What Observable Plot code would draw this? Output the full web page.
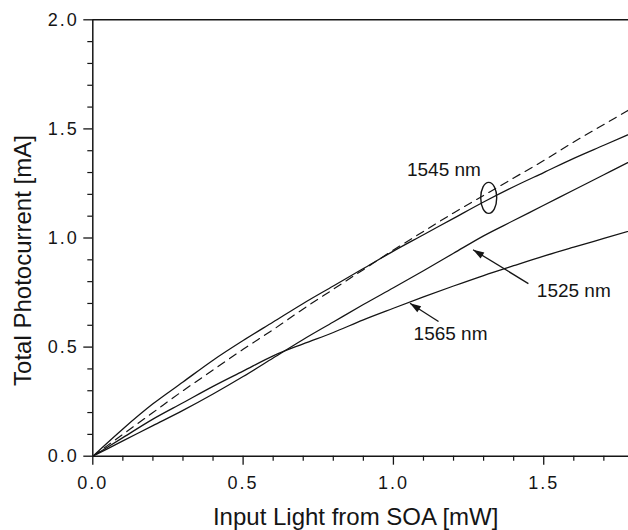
<!DOCTYPE html>
<html><head><meta charset="utf-8">
<script src="https://cdn.jsdelivr.net/npm/d3@7"></script>
<script src="https://cdn.jsdelivr.net/npm/@observablehq/plot@0.6"></script>
<style>
html,body{margin:0;padding:0;background:#fff;overflow:hidden}
svg{display:block}
g[aria-label="x-axis tick label"] text, g[aria-label="y-axis tick label"] text{letter-spacing:2px}
</style>
</head><body><div id="chart"></div>
<script>
const inputPower   = [0, 0.1, 0.2, 0.3, 0.4, 0.5, 0.6, 0.7, 0.8, 0.9, 1.0, 1.1, 1.2, 1.3, 1.4, 1.5, 1.6, 1.7, 1.8];
const current1545  = [0, 0.125, 0.24, 0.34, 0.44, 0.53, 0.615, 0.70, 0.78, 0.86, 0.94, 1.015, 1.09, 1.165, 1.235, 1.30, 1.365, 1.425, 1.485];
const current1545b = [0, 0.10, 0.20, 0.30, 0.395, 0.49, 0.58, 0.675, 0.765, 0.855, 0.945, 1.03, 1.115, 1.195, 1.275, 1.355, 1.44, 1.52, 1.60];
const current1525  = [0, 0.07, 0.14, 0.21, 0.285, 0.365, 0.45, 0.535, 0.615, 0.695, 0.772, 0.85, 0.93, 1.01, 1.08, 1.15, 1.22, 1.29, 1.36];
const current1565  = [0, 0.085, 0.17, 0.245, 0.32, 0.39, 0.46, 0.515, 0.567, 0.625, 0.678, 0.73, 0.78, 0.828, 0.873, 0.917, 0.958, 0.998, 1.038];

const xTicks = [0, 0.5, 1.0, 1.5];
const xMinorTicks = [0.1, 0.2, 0.3, 0.4, 0.6, 0.7, 0.8, 0.9, 1.1, 1.2, 1.3, 1.4, 1.6, 1.7];
const yTicks = [0, 0.5, 1.0, 1.5, 2.0];
const yMinorTicks = [0.1, 0.2, 0.3, 0.4, 0.6, 0.7, 0.8, 0.9, 1.1, 1.2, 1.3, 1.4, 1.6, 1.7, 1.8, 1.9];

const labelText = ["1545 nm", "1525 nm", "1565 nm"];
const labelX = [1.168, 1.600, 1.190];
const labelY = [1.314, 0.759, 0.562];

const arrowFromX = [1.449, 1.150];
const arrowFromY = [0.791, 0.617];
const arrowToX = [1.265, 1.055];
const arrowToY = [0.946, 0.701];

const ellipseX = [1.317];
const ellipseY = [1.184];

const xTitle = "Input Light from SOA [mW]";
const yTitle = "Total Photocurrent [mA]";

// tables built from arrays
const solid = [];
[["1545", current1545], ["1525", current1525], ["1565", current1565]].forEach(([k, arr]) =>
  arr.forEach((v, i) => solid.push({series: k, x: inputPower[i], y: v})));
const dashed = current1545b.map((v, i) => ({x: inputPower[i], y: v}));
const labels = labelText.map((t, i) => ({t, x: labelX[i], y: labelY[i]}));
const arrows = arrowFromX.map((_, i) => ({x1: arrowFromX[i], y1: arrowFromY[i], x2: arrowToX[i], y2: arrowToY[i]}));
const ellipse = ellipseX.map((x, i) => ({x, y: ellipseY[i]}));

const W = 628, H = 530, mL = 92.3, mR = 0, mT = 19.3, mB = 74.3;
const xMax = 1.782;
const kx = (W - mL - mR) / xMax, ky = (H - mT - mB) / 2;
const angle = d => Math.atan2((d.x2 - d.x1) * kx, (d.y2 - d.y1) * ky) * 180 / Math.PI;

const arrowHead = {draw(ctx) { ctx.moveTo(0, 0); ctx.lineTo(-3.6, 11); ctx.lineTo(3.6, 11); ctx.closePath(); }};
const ellipseSym = {draw(ctx) {
  const rx = 8, ry = 15.5, k = 0.5523;
  ctx.moveTo(rx, 0);
  ctx.bezierCurveTo(rx, ry * k, rx * k, ry, 0, ry);
  ctx.bezierCurveTo(-rx * k, ry, -rx, ry * k, -rx, 0);
  ctx.bezierCurveTo(-rx, -ry * k, -rx * k, -ry, 0, -ry);
  ctx.bezierCurveTo(rx * k, -ry, rx, -ry * k, rx, 0);
  ctx.closePath();
}};

const ink = "#151515";
const chart = Plot.plot({
  width: W, height: H,
  marginLeft: mL, marginRight: mR, marginTop: mT, marginBottom: mB,
  x: {domain: [0, xMax], label: null},
  y: {domain: [0, 2], label: null},
  style: {fontFamily: "'Liberation Sans', Arial, sans-serif", background: "#fff", color: ink},
  marks: [
    Plot.axisX(xMinorTicks, {tickSize: 5, fill: "none", stroke: ink, strokeWidth: 1.2, label: null}),
    Plot.axisY(yMinorTicks, {tickSize: 5, fill: "none", stroke: ink, strokeWidth: 1.2, label: null}),
    Plot.axisX(xTicks, {tickSize: 9, tickPadding: 11, tickFormat: d3.format(".1f"), fontSize: 18, stroke: ink, strokeWidth: 1.3, fill: ink, label: null}),
    Plot.axisY(yTicks, {tickSize: 9, tickPadding: 5, tickFormat: d3.format(".1f"), fontSize: 18, stroke: ink, strokeWidth: 1.3, fill: ink, label: null}),
    Plot.ruleX([0], {stroke: ink, strokeWidth: 1.5}),
    Plot.ruleY([0], {stroke: ink, strokeWidth: 1.5}),
    Plot.ruleY([2], {stroke: ink, strokeWidth: 1.5}),
    Plot.line(solid, {x: "x", y: "y", z: "series", stroke: ink, strokeWidth: 1.3, curve: "monotone-x", clip: true}),
    Plot.line(dashed, {x: "x", y: "y", stroke: ink, strokeWidth: 1.2, strokeDasharray: "8,6", curve: "monotone-x", clip: true}),
    Plot.dot(ellipse, {x: "x", y: "y", symbol: ellipseSym, r: 5, fill: "none", stroke: ink, strokeWidth: 1.4}),
    Plot.link(arrows, {x1: "x1", y1: "y1", x2: "x2", y2: "y2", stroke: ink, strokeWidth: 1.3}),
    Plot.dot(arrows, {x: "x2", y: "y2", symbol: arrowHead, r: 5, rotate: angle, fill: ink, stroke: "none"}),
    Plot.text(labels, {x: "x", y: "y", text: "t", fontSize: 19, fill: ink, textAnchor: "middle", lineAnchor: "middle"}),
    Plot.text([xTitle], {frameAnchor: "bottom", dx: -5, dy: 61, fontSize: 24, fill: ink, lineAnchor: "middle", textAnchor: "middle"}),
    Plot.text([yTitle], {frameAnchor: "left", dx: -69.3, dy: 22.5, rotate: -90, fontSize: 24, fill: ink, lineAnchor: "middle", textAnchor: "middle"})
  ]
});
document.getElementById("chart").appendChild(chart);
</script>
</body></html>
